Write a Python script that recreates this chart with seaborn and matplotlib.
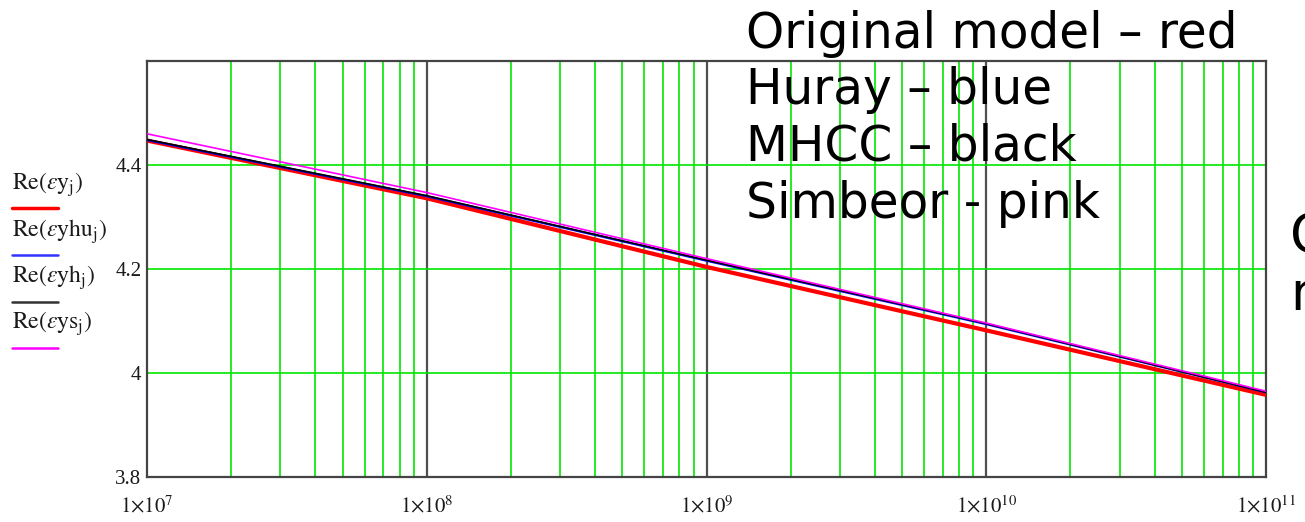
import numpy as np
import pandas as pd
import matplotlib
matplotlib.use("Agg")
import matplotlib.pyplot as plt
import seaborn as sns
from matplotlib.ticker import FixedLocator, NullFormatter

# values, one point per decade
freq = [1e7, 1e8, 1e9, 1e10, 1e11]
eps_orig = [4.447, 4.336, 4.204, 4.082, 3.958]
eps_huray = [4.448, 4.340, 4.216, 4.094, 3.963]
eps_mhcc = [4.449, 4.341, 4.217, 4.095, 3.963]
eps_simbeor = [4.460, 4.347, 4.220, 4.096, 3.965]

legend_labels = [
    r"$\mathrm{Re}\left(\varepsilon\mathrm{y}_{\mathrm{j}}\right)$",
    r"$\mathrm{Re}\left(\varepsilon\mathrm{yhu}_{\mathrm{j}}\right)$",
    r"$\mathrm{Re}\left(\varepsilon\mathrm{yh}_{\mathrm{j}}\right)$",
    r"$\mathrm{Re}\left(\varepsilon\mathrm{ys}_{\mathrm{j}}\right)$",
]
notes = ["Original model \u2013 red", "Huray \u2013 blue", "MHCC \u2013 black", "Simbeor - pink"]
yticks = [3.8, 4.0, 4.2, 4.4]
ytick_labels = ["3.8", "4", "4.2", "4.4"]
xtick_labels = [r"$1{\times}10^{%d}$" % e for e in range(7, 12)]

df = pd.DataFrame({
    "freq": freq * 4,
    "eps": eps_orig + eps_huray + eps_mhcc + eps_simbeor,
    "series": ["orig"] * 5 + ["huray"] * 5 + ["mhcc"] * 5 + ["simbeor"] * 5,
})

colors = {"orig": "#ff0000", "huray": "#0000ff", "mhcc": "#000000", "simbeor": "#ff00ff"}
widths = {"orig": 3.0, "huray": 1.6, "mhcc": 1.2, "simbeor": 1.2}

sns.set_style("white")
plt.rcParams["mathtext.fontset"] = "stix"

fig = plt.figure(figsize=(13.05, 5.22), dpi=100)
ax = fig.add_axes([147 / 1305, 45 / 522, (1266 - 147) / 1305, (477 - 61) / 522])

# grid first so the curves sit on top
grid_green = "#00e600"
for dec in [1e7, 1e8, 1e9, 1e10]:
    for m in range(2, 10):
        ax.axvline(dec * m, color=grid_green, lw=1.2, zorder=1)
for dec in [1e8, 1e9, 1e10]:
    ax.axvline(dec, color="#505050", lw=1.6, zorder=1)
for yv in [4.0, 4.2, 4.4]:
    ax.axhline(yv, color=grid_green, lw=1.2, zorder=1)

for key in ["orig", "huray", "mhcc", "simbeor"]:
    sub = df[df["series"] == key]
    sns.lineplot(data=sub, x="freq", y="eps", color=colors[key],
                 lw=widths[key], ax=ax, zorder=3, legend=False)

ax.set_xscale("log")
ax.set_xlim(1e7, 1e11)
ax.set_ylim(3.8, 4.6)
ax.set_xlabel("")
ax.set_ylabel("")

ax.xaxis.set_major_locator(FixedLocator(freq))
ax.xaxis.set_minor_formatter(NullFormatter())
ax.set_xticks(freq)
ax.set_xticklabels(xtick_labels, fontsize=15, color="#1a1a1a")
ax.set_yticks(yticks)
ax.set_yticklabels(ytick_labels, fontsize=15, color="#1a1a1a",
                   family="Liberation Serif")
ax.tick_params(axis="x", which="both", length=0, pad=13)
ax.tick_params(axis="y", length=0, pad=4)
ax.minorticks_off()

for sp in ax.spines.values():
    sp.set_color("#444444")
    sp.set_linewidth(1.6)

# Mathcad style legend at the left
leg_colors = ["#ff0000", "#3333ff", "#333333", "#ff00ff"]
text_y = [185, 232, 278, 324]
line_y = [208, 255, 302, 348]
for lab, c, ty, ly in zip(legend_labels, leg_colors, text_y, line_y):
    fig.text(12 / 1305, 1 - ty / 522, lab, fontsize=17, color="#1a1a1a",
             ha="left", va="center")
    fig.add_artist(plt.Line2D([12 / 1305, 58 / 1305], [1 - ly / 522] * 2,
                              color=c, lw=1.8 if c != "#ff0000" else 2.5))

# slide annotations
note_base = [48, 104, 161, 218]
for txt, b in zip(notes, note_base):
    fig.text(746 / 1305, 1 - b / 522, txt, fontsize=35, family="DejaVu Sans",
             ha="left", va="baseline", color="black")
fig.text(1290 / 1305, 1 - 252 / 522, "C", fontsize=38, family="DejaVu Sans",
         ha="left", va="baseline", color="black")
fig.text(1290 / 1305, 1 - 310 / 522, "n", fontsize=38, family="DejaVu Sans",
         ha="left", va="baseline", color="black")

fig.savefig("out.png", dpi=100)
